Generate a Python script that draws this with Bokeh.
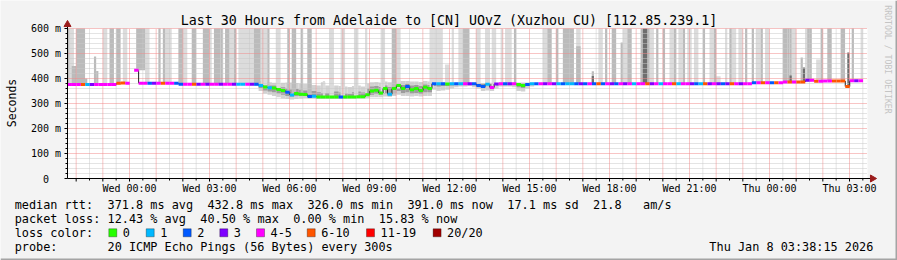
import math
from bokeh.plotting import figure
from bokeh.models import Range1d, Label, BoxAnnotation
from bokeh.core.properties import value
from bokeh.embed import file_html
from bokeh.resources import INLINE

# ---------------- data ----------------
TITLE = "Last 30 Hours from Adelaide to [CN] UOvZ (Xuzhou CU) [112.85.239.1]"
WINDOW_START_H = -2.325          # hours relative to Wed 00:00
WINDOW_HOURS = 30
STEP_MIN = 10
Y_MAX_MS = 600

# median rtt (ms) per 10-minute sample, None = no data
median_ms = [
    376, 376, 376, 376, 376, 376, 376, 376, 376, 376,
    376, 381, 382, 381, None, 432.8, 381, 381, 381, 381,
    381, 381, 381, 381, 381, 377, 377, 377, 377, 377,
    377, 377, 377, 377, 377, 377, 377, 377, 377, 377,
    377, 377, 377, 372, 366, 363, 362, 356, 352, 345,
    334, 340, 337, 336, 328, 329, 326, 326, 326, 326,
    326, 326, 326, 326, 326, 327, 327, 335, 350, 353,
    342, 360, 337, 360, 372, 360, 368, 355, 360, 352,
    365, 360, 379, 379, 379, 378, 379, 379, 379, 379,
    379, 379, 372, 368, 377, 364, 378, 379, 379, 379,
    379, 376, 372, 376, 379, 379, 379, 379, 379, 379,
    379, 379, 379, 379, 379, 379, 379, 379, 379, 379,
    379, 379, 379, 379, 379, 379, 379, 379, 379, 379,
    379, 379, 379, 379, 379, 379, 379, 379, 379, 379,
    379, 379, 379, 379, 379, 379, 379, 379, 379, 379,
    379, 379, 379, 379, 383, 383, 383, 383, 383, 383,
    383, 386, 386, 386, 386, 386, 393, 393, 389, 389,
    390, 390, 390, 390, 390, 368, 391, 391, 391, None,
]
# loss class per sample (index into loss_labels), '-' = no data
loss_class = (
    "4445134444" "4554-44423" "4544224453" "4344344311" "4321010002"
    "1000210000" "0200000000" "0010002000" "0021201214" "3222143423"
    "4002124343" "1211232425" "2432434144" "5341445144" "3215343235"
    "4344245425" "4454553454" "445555434-"
)
loss_labels = ["0", "1", "2", "3", "4-5", "6-10", "11-19", "20/20"]
loss_colors = ["#26ff00", "#00b8ff", "#0059ff", "#7e00ff", "#ff00ff", "#ff5500", "#ff0000", "#a10000"]

# smoke band around the median (samples 40..104)
BAND_START = 40
band_lo = [378, 376, 370, 350, 340, 335, 330, 325, 320, 318,
           316, 318, 320, 322, 320, 320, 318, 318, 318, 318,
           318, 318, 318, 320, 320, 320, 320, 322, 325, 325,
           325, 328, 326, 330, 335, 330, 330, 328, 330, 328,
           330, 330, 355, 350, 352, 355, 360, 365, 368, 368,
           370, 365, 360, 350, 352, 350, 360, 368, 368, 368,
           365, 350, 348, 360, 368]
band_hi = [386, 386, 388, 390, 388, 385, 383, 380, 383, 384,
           384, 382, 380, 378, 376, 374, 372, 385, 372, 370,
           372, 370, 368, 366, 370, 372, 368, 380, 385, 386,
           384, 388, 385, 390, 392, 390, 390, 388, 388, 386,
           390, 388, 385, 384, 384, 383, 383, 383, 383, 383,
           383, 383, 383, 382, 382, 383, 382, 383, 383, 383,
           383, 384, 384, 384, 383]
core_lo = [378, 378, 375, 362, 352, 348, 345, 340, 335, 330,
           328, 330, 330, 330, 326, 326, 324, 324, 324, 324,
           324, 324, 324, 324, 324, 325, 325, 330, 335, 338,
           335, 340, 332, 342, 350, 342, 345, 340, 342, 338,
           345, 345, 370, 368, 370, 370, 372, 374, 375, 375,
           376, 375, 368, 362, 368, 360, 372, 374, 374, 375,
           374, 365, 362, 370, 374]
core_hi = [382, 382, 383, 380, 376, 372, 372, 368, 365, 360,
           356, 358, 355, 352, 350, 350, 345, 342, 342, 345,
           348, 344, 340, 338, 345, 348, 344, 360, 368, 370,
           366, 372, 366, 374, 380, 374, 378, 372, 374, 370,
           376, 374, 382, 381, 381, 381, 381, 381, 381, 381,
           381, 381, 380, 378, 380, 378, 380, 381, 381, 381,
           381, 381, 380, 381, 381]

# outlier smoke bars: start (minutes from Wed 00:00), length (min), top (ms)
light_start = [-135, -60, -15, 35, 80, 120, 180, 225, 245, 295, 330, 435, 450, 475, 505, 530,
               565, 600, 675, 685, 710, 725, 740, 780, 800, 815, 835, 845, 930, 1005, 1055, 1110,
               1170, 1215, 1235, 1255, 1270, 1305, 1320, 1340, 1355, 1370, 1410, 1430, 1490, 1520, 1545, 1645]
light_len = [10, 10, 10, 10, 15, 10, 5, 10, 40, 15, 10, 5, 10, 10, 10, 5,
             10, 10, 10, 20, 10, 5, 10, 10, 10, 10, 5, 15, 10, 10, 10, 10,
             10, 10, 10, 10, 10, 10, 10, 5, 10, 10, 10, 10, 10, 15, 10, 5]
light_top = [650, 650, 650, 650, 650, 650, 650, 650, 650, 650, 650, 390, 650, 650, 650, 650,
             650, 650, 650, 650, 456, 650, 650, 650, 650, 650, 650, 650, 650, 650, 650, 650,
             650, 650, 650, 650, 650, 650, 409, 650, 650, 650, 650, 650, 650, 650, 476, 650]
mid_start = [-140, -130, -120, -100, -80, -75, -45, -30, 15, 65, 75, 110, 140, 165, 190, 205,
             215, 235, 280, 310, 355, 365, 370, 385, 400, 590, 750, 865, 940, 960, 975, 1005,
             1040, 1070, 1085, 1105, 1120, 1150, 1150, 1165, 1185, 1200, 1225, 1245, 1290, 1315, 1350, 1385,
             1400, 1420, 1470, 1480, 1485, 1510, 1525, 1555, 1570, 1600, 1625]
mid_len = [5, 10, 20, 5, 5, 5, 10, 10, 20, 5, 5, 10, 10, 15, 15, 5,
           10, 5, 15, 5, 5, 5, 5, 5, 10, 10, 15, 5, 10, 5, 25, 10,
           5, 5, 10, 5, 10, 5, 10, 5, 5, 5, 5, 5, 5, 5, 5, 5,
           5, 5, 10, 5, 5, 5, 10, 5, 10, 10, 5]
mid_top = [650, 450, 650, 400, 488, 430, 650, 650, 650, 650, 650, 650, 650, 650, 650, 650,
           650, 650, 650, 650, 650, 650, 650, 650, 650, 650, 650, 650, 650, 650, 650, 529,
           429, 650, 650, 544, 650, 650, 464, 650, 650, 650, 650, 650, 650, 650, 650, 650,
           650, 650, 650, 650, 650, 484, 650, 650, 650, 650, 650]
dark_start = [1040, 1155, 1485, 1515, 1615]
dark_len = [5, 10, 5, 5, 5]
dark_top = [410, 650, 412, 444, 504]

x_tick_hours = [0, 3, 6, 9, 12, 15, 18, 21, 24, 27]
x_tick_labels = ["Wed 00:00", "Wed 03:00", "Wed 06:00", "Wed 09:00", "Wed 12:00",
                 "Wed 15:00", "Wed 18:00", "Wed 21:00", "Thu 00:00", "Thu 03:00"]
y_tick_ms = [0, 100, 200, 300, 400, 500, 600]
y_tick_labels = ["0", "100 m", "200 m", "300 m", "400 m", "500 m", "600 m"]

rtt_texts = ["median rtt:", "371.8 ms avg", "432.8 ms max", "326.0 ms min",
             "391.0 ms now", "17.1 ms sd", "21.8", "am/s"]
loss_texts = ["packet loss:", "12.43 % avg", "40.50 % max", "0.00 % min", "15.83 % now"]
probe_texts = ["probe:", "20 ICMP Echo Pings (56 Bytes) every 300s"]
timestamp_text = "Thu Jan  8 03:38:15 2026"

# ---------------- checks ----------------
N = len(median_ms)
assert N == 180 and len(loss_class) == N
assert len(band_lo) == len(band_hi) == len(core_lo) == len(core_hi) == 65
assert len(light_start) == len(light_len) == len(light_top)
assert len(mid_start) == len(mid_len) == len(mid_top)
assert len(dark_start) == len(dark_len) == len(dark_top)

# ---------------- layout ----------------
W, H = 897, 260
FL, FT, FR, FB = 67, 28, 867, 178          # plot area on the canvas (px)
PX_PER_H = (FR - FL) / WINDOW_HOURS
PX_PER_MS = (FB - FT) / Y_MAX_MS
MONO = "DejaVu Sans Mono"


def hx(X):   # canvas px -> hours
    return WINDOW_START_H + (X - FL) / PX_PER_H


def my(Y):   # canvas px -> ms
    return (FB - Y) / PX_PER_MS


T_END = WINDOW_START_H + WINDOW_HOURS

p = figure(width=W, height=H, output_backend="svg", toolbar_location=None, title=None,
           x_axis_type=None, y_axis_type=None,
           x_range=Range1d(hx(0), hx(W)), y_range=Range1d(my(H), my(0)),
           min_border=0)
p.background_fill_color = "#f3f3f3"
p.border_fill_color = "#f3f3f3"
p.outline_line_color = None

# plot area background
p.quad(left=[WINDOW_START_H], right=[T_END], bottom=[0], top=[Y_MAX_MS],
       fill_color="#ffffff", line_color=None)

step_h = STEP_MIN / 60.0
t0 = [WINDOW_START_H + i * step_h for i in range(N)]
t1 = [t + step_h for t in t0]


def median_near(minutes):
    idx = int(math.floor((minutes / 60.0 - WINDOW_START_H) / step_h))
    idx = max(0, min(N - 1, idx))
    for d in range(0, 5):
        for j in (idx + d, idx - d):
            if 0 <= j < N and median_ms[j] is not None:
                return median_ms[j]
    return 380


def clip_h(v):
    return max(WINDOW_START_H, min(T_END, v))


# band smoke
bi = [BAND_START + k for k in range(len(band_lo))]
p.quad(left=[t0[i] for i in bi], right=[t1[i] for i in bi], bottom=band_lo, top=band_hi,
       fill_color="#d2d2d2", line_color=None)
p.quad(left=[t0[i] for i in bi], right=[t1[i] for i in bi], bottom=core_lo, top=core_hi,
       fill_color="#9c9c9c", line_color=None)

# outlier smoke bars (clipped at the top of the plot area)
for starts, lens, tops, col in ((light_start, light_len, light_top, "#dcdcdc"),
                                (mid_start, mid_len, mid_top, "#bbbbbb"),
                                (dark_start, dark_len, dark_top, "#6e6e6e")):
    p.quad(left=[clip_h(s / 60.0) for s in starts],
           right=[clip_h((s + l) / 60.0) for s, l in zip(starts, lens)],
           bottom=[median_near(s) for s in starts],
           top=[min(t, Y_MAX_MS) for t in tops], fill_color=col, line_color=None)

# grid
hours_major = [h for h in range(-2, 28) if WINDOW_START_H < h <= T_END]
hours_minor = [h + 0.5 for h in range(-3, 28) if WINDOW_START_H < h + 0.5 < T_END]
ms_minor = [v for v in range(20, Y_MAX_MS, 20) if v % 100]
ms_major = [v for v in y_tick_ms if v > 0]
GRID_MINOR = "#c8c8c8"
GRID_MAJOR = "#f08a8a"
p.segment(x0=hours_minor, x1=hours_minor, y0=[0] * len(hours_minor), y1=[Y_MAX_MS] * len(hours_minor),
          line_color=GRID_MINOR, line_width=1, line_dash="1 1")
p.segment(x0=[WINDOW_START_H] * len(ms_minor), x1=[T_END] * len(ms_minor), y0=ms_minor, y1=ms_minor,
          line_color=GRID_MINOR, line_width=1, line_dash="1 1")
p.segment(x0=hours_major, x1=hours_major, y0=[0] * len(hours_major), y1=[Y_MAX_MS] * len(hours_major),
          line_color=GRID_MAJOR, line_width=1, line_dash="1 1")
p.segment(x0=[WINDOW_START_H] * len(ms_major), x1=[T_END] * len(ms_major), y0=ms_major, y1=ms_major,
          line_color=GRID_MAJOR, line_width=1, line_dash="1 1")

# median: dark connectors + loss-coloured steps
cx, cy0, cy1 = [], [], []
for i in range(1, N):
    a, b = median_ms[i - 1], median_ms[i]
    if a is not None and b is not None and a != b:
        cx.append(t0[i]); cy0.append(a); cy1.append(b)
p.segment(x0=cx, y0=cy0, x1=cx, y1=cy1, line_color="#202020", line_width=1)

sx0, sx1, sy, sc = [], [], [], []
for i in range(N):
    if median_ms[i] is None or loss_class[i] == "-":
        continue
    sx0.append(t0[i]); sx1.append(min(t1[i], T_END)); sy.append(median_ms[i])
    sc.append(loss_colors[int(loss_class[i])])
p.segment(x0=sx0, y0=sy, x1=sx1, y1=sy, line_color=sc, line_width=3)

# axes
tick_h = 3 / PX_PER_H
tick_ms = 3 / PX_PER_MS
p.segment(x0=[WINDOW_START_H], x1=[WINDOW_START_H], y0=[0], y1=[my(FT - 5)], line_color="#000000", line_width=1)
p.segment(x0=[WINDOW_START_H], x1=[hx(FR + 5)], y0=[0], y1=[0], line_color="#000000", line_width=1)
yt = y_tick_ms + ms_minor
p.segment(x0=[WINDOW_START_H - (tick_h if v % 100 == 0 else tick_h * 0.67) for v in yt],
          x1=[WINDOW_START_H] * len(yt), y0=yt, y1=yt, line_color="#000000", line_width=1)
xt = hours_major + hours_minor
p.segment(x0=xt, x1=xt, y0=[0] * len(xt),
          y1=[-(tick_ms if float(h).is_integer() else tick_ms * 0.67) for h in xt],
          line_color="#000000", line_width=1)
p.scatter(x=[WINDOW_START_H], y=[my(FT - 4)], marker="triangle", size=7,
          fill_color="#9b1c1c", line_color="#9b1c1c")
p.scatter(x=[hx(FR + 5)], y=[0], marker="triangle", size=7, angle=-math.pi / 2,
          fill_color="#9b1c1c", line_color="#9b1c1c")

# tick labels
p.text(x=x_tick_hours, y=[my(FB + 9.5)] * len(x_tick_hours), text=x_tick_labels,
       text_font=value(MONO), text_font_size=value("10px"), text_color="#000000",
       text_align="center", text_baseline="middle")
p.text(x=[hx(60.5 if lbl.endswith(" m") else 48.5) for lbl in y_tick_labels], y=y_tick_ms,
       text=y_tick_labels, text_font=value(MONO), text_font_size=value("10px"),
       text_color="#000000", text_align="right", text_baseline="middle")


def lab(X, Y, text, size, align="left", color="#000000", angle=0.0):
    p.add_layout(Label(x=X, y=H - Y, x_units="screen", y_units="screen", text=text,
                       text_font=MONO, text_font_size=f"{size}px", text_color=color,
                       text_align=align, text_baseline="middle", angle=angle))


def box(X0, Y0, X1, Y1, fill, line=None):
    p.add_layout(BoxAnnotation(left=X0, right=X1, top=H - Y0, bottom=H - Y1,
                               left_units="screen", right_units="screen",
                               top_units="screen", bottom_units="screen",
                               fill_color=fill, fill_alpha=1.0,
                               line_color=line, line_width=1))


lab(448.5, 19.5, TITLE, 13.3, align="center")
lab(11, 102.5, "Seconds", 11.5, align="center", angle=math.pi / 2)
lab(887.5, 59, "RRDTOOL / TOBI OETIKER", 8.2, align="center", color="#c4c4c4", angle=-math.pi / 2)

LEG = 11.85
COL0, PITCH = 14.2, 7.14       # legend text grid (px)
for idx, t in zip([0, 13, 27, 41, 55, 69, 81, 88], rtt_texts):
    lab(COL0 + idx * PITCH, 204, t, LEG)
for idx, t in zip([0, 13, 26, 39, 51], loss_texts):
    lab(COL0 + idx * PITCH, 218, t, LEG)
lab(COL0, 232, "loss color:", LEG)
for X, t, c in zip([108.3, 145.7, 182.7, 219.3, 256, 306.7, 366, 432.6], loss_labels, loss_colors):
    box(X, 228.3, X + 8, 236.3, c, "#000000")
    lab(X + 14, 232, t, LEG)
for idx, t in zip([0, 13], probe_texts):
    lab(COL0 + idx * PITCH, 246, t, LEG)
lab(880, 246, timestamp_text, LEG, align="right")

# image border shading
box(0, 258, W, H, "#a4a4a4")
box(W - 2, 0, W, H, "#a4a4a4")

open("out.html", "w").write(file_html(p, INLINE))
